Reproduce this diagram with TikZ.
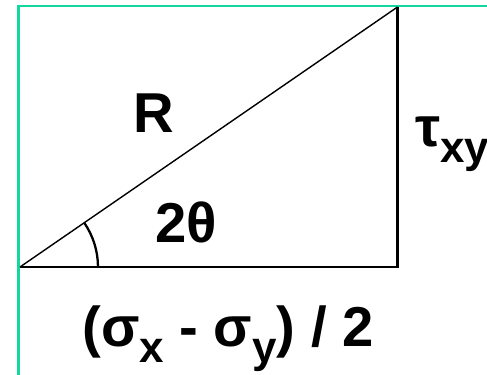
\documentclass[tikz,border=0pt]{standalone}
\usepackage{fontspec}
\setmainfont{Liberation Sans}
\usepackage{tikz}
\usetikzlibrary{positioning}
\definecolor{frame}{RGB}{20,215,160}
\newcommand{\lowsub}[1]{\raisebox{-9pt}{\fontsize{25}{28}\selectfont #1}}

\begin{document}
\begin{tikzpicture}[x=0.02cm,y=0.02cm,
  lbl/.style={inner sep=0pt,font=\fontsize{32}{36}\selectfont\bfseries}]
  \useasboundingbox (0,0) rectangle (487,375);
  \draw[frame,line width=1.3pt] (18.5,0)--(18.5,369)--(487,369);
  % triangle
  \coordinate (A) at (20,108);
  \coordinate (B) at (397.5,108);
  \coordinate (C) at (397.5,368);
  \draw[line width=1.4pt] (A)--(B)--(C);
  \draw[line width=0.8pt] (A)--(C);
  \draw[line width=1.3pt] (A) ++(1.56cm,0) arc[start angle=0,end angle=34.6,radius=1.56cm];
  \node[lbl] (radius) at (154,262) {R};
  \node[lbl] (angle) at (186,153) {2θ};
  \node[lbl,anchor=base west] (shear) at (415,228) {τ\lowsub{xy}};
  \node[lbl,anchor=base] (base) at (228,28) {(σ\lowsub{x} - σ\lowsub{y}) / 2};
\end{tikzpicture}
\end{document}
